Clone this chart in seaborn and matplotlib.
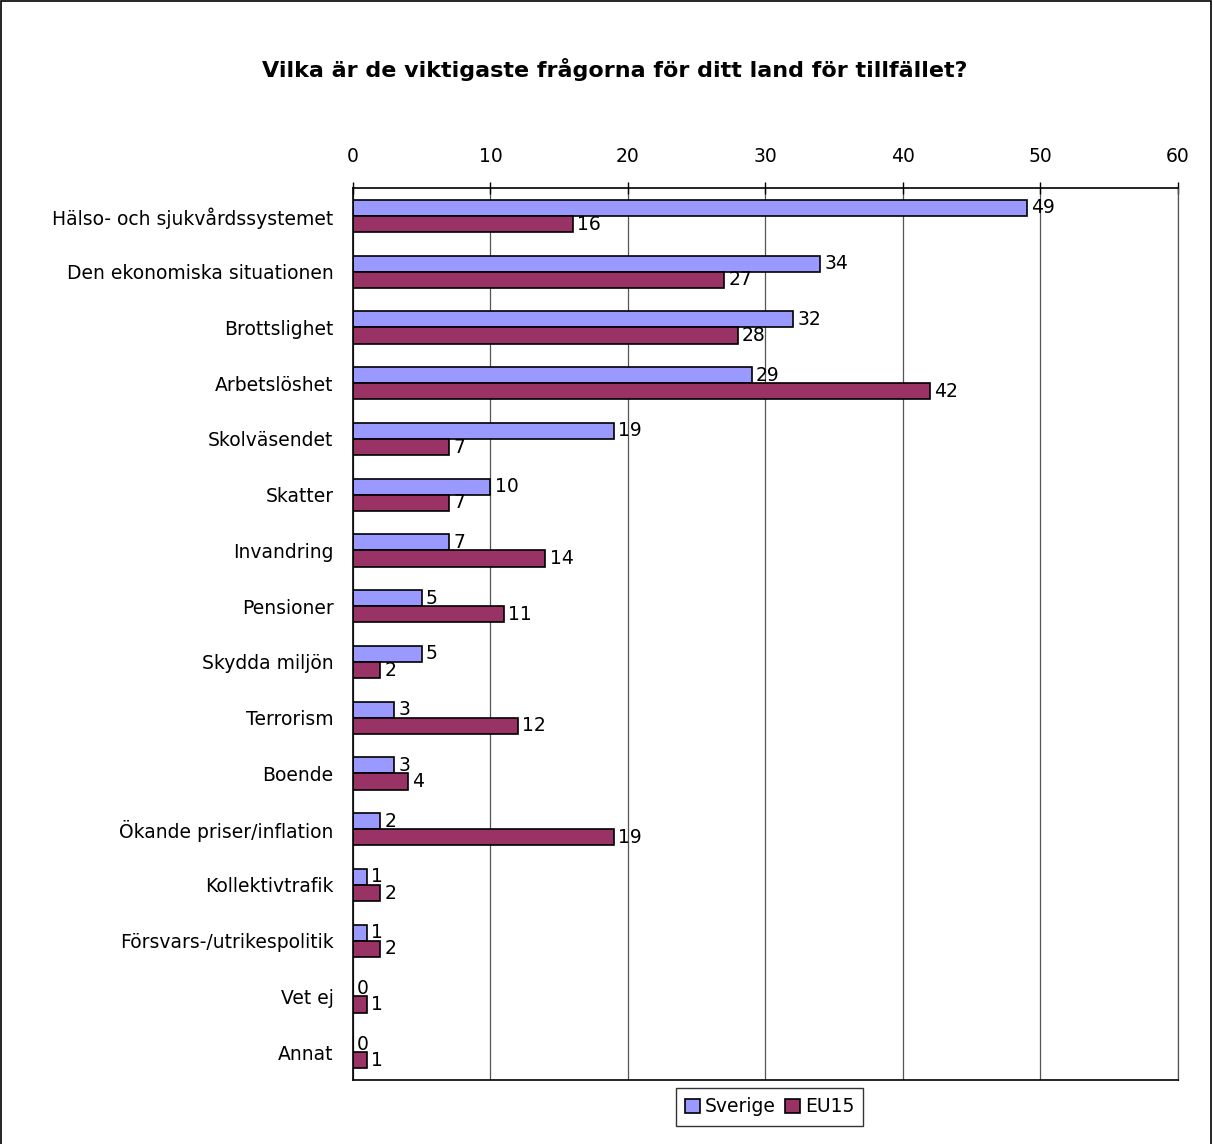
import numpy as np
import pandas as pd
import matplotlib
matplotlib.use('Agg')
import matplotlib.pyplot as plt
import seaborn as sns
from matplotlib.patches import Rectangle

# --- data ---
categories = ['Hälso- och sjukvårdssystemet', 'Den ekonomiska situationen', 'Brottslighet',
              'Arbetslöshet', 'Skolväsendet', 'Skatter', 'Invandring', 'Pensioner',
              'Skydda miljön', 'Terrorism', 'Boende', 'Ökande priser/inflation',
              'Kollektivtrafik', 'Försvars-/utrikespolitik', 'Vet ej', 'Annat']
sverige = [49, 34, 32, 29, 19, 10, 7, 5, 5, 3, 3, 2, 1, 1, 0, 0]
eu15 = [16, 27, 28, 42, 7, 7, 14, 11, 2, 12, 4, 19, 2, 2, 1, 1]
series = ['Sverige', 'EU15']
colors = ['#9999FF', '#993366']

df = pd.DataFrame({
    'fraga': categories * 2,
    'andel': sverige + eu15,
    'serie': ['Sverige'] * len(categories) + ['EU15'] * len(categories),
})

sns.set_style('white')
plt.rcParams['font.family'] = ['DejaVu Sans']
plt.rcParams['text.color'] = 'black'
plt.rcParams['xtick.color'] = 'black'
plt.rcParams['ytick.color'] = 'black'

fs = 13.5

fig = plt.figure(figsize=(12.13, 11.44), dpi=100)
ax = fig.add_axes([0.291, 0.0559, 0.680, 0.7797])

sns.barplot(data=df, y='fraga', x='andel', hue='serie', hue_order=series,
            palette=colors, saturation=1, orient='h', width=0.58,
            edgecolor='black', linewidth=1.2, ax=ax, legend=True)

for cont in ax.containers:
    ax.bar_label(cont, padding=3, fontsize=fs, color='black')

ax.set_xlim(0, 60)
ax.set_ylim(len(categories) - 0.5, -0.5)
ax.set_xticks(np.arange(0, 61, 10))
ax.xaxis.tick_top()
ax.tick_params(axis='x', labelsize=fs, direction='inout', length=8, width=1,
               color='black', pad=12)
ax.tick_params(axis='y', which='major', labelsize=fs, length=0, pad=14)
ax.set_yticks(np.arange(-0.5, len(categories), 1), minor=True)
ax.tick_params(axis='y', which='minor', length=6, width=1, color='black')
ax.set_xlabel('')
ax.set_ylabel('')
ax.grid(axis='x', color='#555555', linewidth=0.9)
ax.set_axisbelow(True)
for side in ['left', 'bottom', 'top']:
    ax.spines[side].set_color('black')
    ax.spines[side].set_linewidth(1.2)
ax.spines['right'].set_color('#555555')
ax.spines['right'].set_linewidth(0.9)

leg = ax.legend(loc='upper center', bbox_to_anchor=(0.505, -0.009), ncol=2,
                frameon=True, fancybox=False, edgecolor='black', fontsize=fs,
                handlelength=0.8, handleheight=0.8, handletextpad=0.25,
                columnspacing=0.5, borderpad=0.5, borderaxespad=0)
leg.get_frame().set_linewidth(1)

fig.text(0.507, 0.939, 'Vilka är de viktigaste frågorna för ditt land för tillfället?',
         ha='center', va='center', fontsize=16, fontweight='bold')

fig.patches.append(Rectangle((0.001, -0.01), 0.997, 1.009, transform=fig.transFigure,
                             fill=False, edgecolor='black', linewidth=1.2))

fig.savefig('out.png', dpi=100)
